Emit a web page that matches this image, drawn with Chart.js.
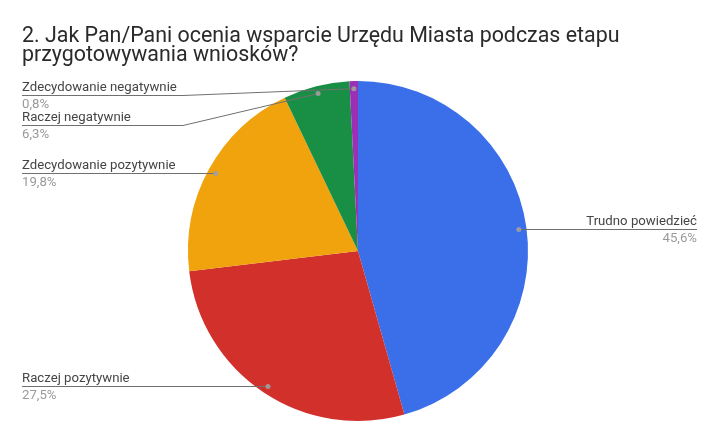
<!DOCTYPE html>
<html>
<head>
<meta charset="utf-8">
<script src="https://cdn.jsdelivr.net/npm/chart.js@4.4.1/dist/chart.umd.min.js"></script>
<style>
  html, body { margin: 0; padding: 0; background: #fff; }
  #wrap { width: 717px; height: 443px; position: relative; }
</style>
</head>
<body>
<div id="wrap"><canvas id="c" width="717" height="443"></canvas></div>
<script>
const titleLines = ['2. Jak Pan/Pani ocenia wsparcie Urzędu Miasta podczas etapu', 'przygotowywania wniosków?'];
const categories = ['Trudno powiedzieć', 'Raczej pozytywnie', 'Zdecydowanie pozytywnie', 'Raczej negatywnie', 'Zdecydowanie negatywnie'];
const values = [45.6, 27.5, 19.8, 6.3, 0.8];
const colors = ['#3b6fe9', '#d2302b', '#f0a30c', '#188f45', '#9b30b6'];

const fmtPct = v => v.toFixed(1).replace('.', ',') + '%';

const labelPlugin = {
  id: 'pieLabels',
  afterDraw(chart) {
    const ctx = chart.ctx;
    const area = chart.chartArea;
    // title
    ctx.save();
    ctx.fillStyle = '#2a2a2a';
    ctx.font = '21.4px Roboto';
    ctx.textBaseline = 'alphabetic';
    ctx.textAlign = 'left';
    ctx.fillText(titleLines[0], 22, 42);
    ctx.fillText(titleLines[1], 22, 61);

    const meta = chart.getDatasetMeta(0);
    const items = meta.data.map((arc, i) => {
      const mid = (arc.startAngle + arc.endAngle) / 2;
      const r = arc.outerRadius * 0.955;
      return { i, x: arc.x + Math.cos(mid) * r, y: arc.y + Math.sin(mid) * r, right: Math.cos(mid) >= 0 };
    });
    const minY = area.top + 14;
    const gap = 30;
    const place = list => {
      list.sort((a, b) => a.y - b.y);
      let prev = -Infinity;
      list.forEach(it => {
        it.ly = Math.max(it.y, minY, prev + gap);
        prev = it.ly;
      });
    };
    place(items.filter(it => !it.right));
    place(items.filter(it => it.right));

    items.forEach(it => {
      const ly = Math.round(it.ly) + 0.5;
      const bent = Math.abs(it.ly - it.y) > 1;
      ctx.strokeStyle = '#707070';
      ctx.lineWidth = 1;
      ctx.beginPath();
      if (it.right) {
        ctx.moveTo(697, ly);
        if (bent) { ctx.lineTo(area.right + 5, ly); ctx.lineTo(it.x, it.y); }
        else { ctx.lineTo(it.x, ly); }
      } else {
        ctx.moveTo(22, ly);
        if (bent) { ctx.lineTo(area.left - 5, ly); ctx.lineTo(it.x, it.y); }
        else { ctx.lineTo(it.x, ly); }
      }
      ctx.stroke();
      // dot
      ctx.fillStyle = 'rgba(160,160,160,0.9)';
      ctx.beginPath();
      ctx.arc(it.x, bent ? it.y : ly, 2.5, 0, Math.PI * 2);
      ctx.fill();
      // texts
      ctx.font = '13.2px Roboto';
      ctx.textAlign = it.right ? 'right' : 'left';
      const tx = it.right ? 697 : 22;
      ctx.fillStyle = '#454545';
      ctx.fillText(categories[it.i], tx, ly - 4.5);
      ctx.fillStyle = '#9a9a9a';
      ctx.fillText(fmtPct(values[it.i]), tx, ly + 12.5);
    });
    ctx.restore();
  }
};

new Chart(document.getElementById('c'), {
  type: 'pie',
  data: {
    labels: categories,
    datasets: [{ data: values, backgroundColor: colors, borderWidth: 0 }]
  },
  options: {
    responsive: false,
    animation: false,
    layout: { padding: { top: 81, bottom: 22, left: 188, right: 189 } },
    plugins: { legend: { display: false }, tooltip: { enabled: false }, title: { display: false } }
  },
  plugins: [labelPlugin]
});
</script>
</body>
</html>
